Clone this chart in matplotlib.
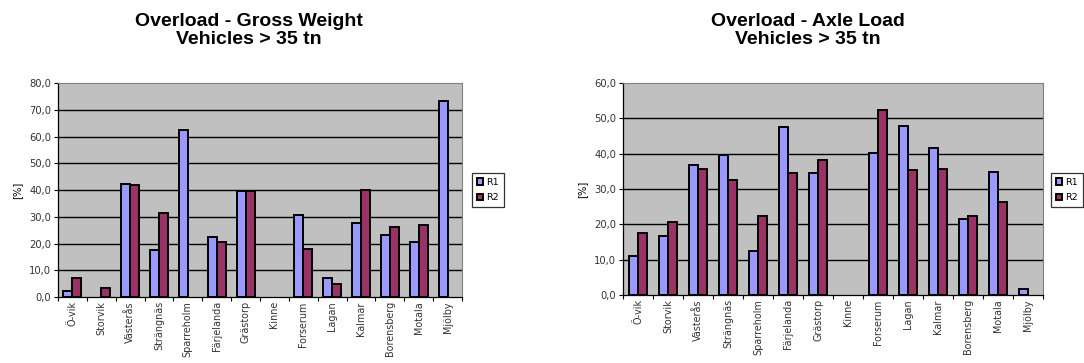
import matplotlib
matplotlib.use("Agg")
import matplotlib.pyplot as plt
import numpy as np

plt.rcParams['font.family'] = ['Liberation Sans', 'DejaVu Sans']

categories = ["Ö-vik", "Storvik", "Västerås", "Strängnäs", "Sparreholm", "Färjelanda",
              "Grästorp", "Kinne", "Forserum", "Lagan", "Kalmar", "Borensberg", "Motala", "Mjölby"]

gross_r1 = [2.4, 0.0, 42.1, 17.6, 62.5, 22.3, 39.8, 0.0, 30.7, 7.2, 27.8, 23.3, 20.5, 73.4]
gross_r2 = [7.2, 3.4, 42.0, 31.3, 0.0, 20.6, 39.8, 0.0, 18.1, 4.7, 40.0, 26.3, 26.8, 0.0]

axle_r1 = [10.9, 16.8, 36.8, 39.6, 12.5, 47.5, 34.5, 0.0, 40.2, 47.9, 41.7, 21.6, 34.9, 1.7]
axle_r2 = [17.6, 20.7, 35.7, 32.6, 22.5, 34.6, 38.3, 0.0, 52.5, 35.4, 35.7, 22.5, 26.2, 0.0]

c_r1 = "#9999FF"
c_r2 = "#993366"
bg = "#C0C0C0"
tick_font = ['DejaVu Sans']

W, H = 1084, 363
fig = plt.figure(figsize=(W / 100, H / 100), dpi=100)


def px_axes(x0, x1, ytop, ybot):
    return fig.add_axes([x0 / W, 1 - ybot / H, (x1 - x0) / W, (ybot - ytop) / H])


def bars(ax, x, vals, offset, w, color, label):
    vals = np.asarray(vals, dtype=float)
    keep = vals > 0
    ax.bar(x[keep] + offset, vals[keep], w, color=color, edgecolor="black",
           linewidth=1.4, label=label, zorder=3)


def draw(ax, r1, r2, ymax, title, title_x, legend_x):
    n = len(categories)
    x = np.arange(n)
    w = 0.31
    ax.set_facecolor(bg)
    bars(ax, x, r1, -w / 2, w, c_r1, "R1")
    bars(ax, x, r2, w / 2, w, c_r2, "R2")
    ax.set_xlim(-0.5, n - 0.5)
    ax.set_ylim(0, ymax)
    yt = np.arange(0, ymax + 0.1, 10)
    ax.set_yticks(yt)
    ax.set_yticklabels([f"{v:.1f}".replace(".", ",") for v in yt], fontsize=7.2,
                       color="#333333", family=tick_font)
    for v in yt[1:-1]:
        ax.axhline(v, color="black", linewidth=1.0, zorder=1)
    ax.set_xticks(np.arange(-0.5, n, 1.0))
    ax.set_xticklabels([])
    ax.set_xticks(x, minor=True)
    ax.set_xticklabels(categories, minor=True, rotation=90, fontsize=6.9,
                       color="#333333", family=tick_font)
    ax.tick_params(axis="x", which="minor", length=0, pad=3)
    ax.tick_params(axis="x", which="major", length=3, width=0.8, direction="out")
    ax.tick_params(axis="y", length=3, width=0.8, direction="out", pad=2)
    for s in ("top", "right"):
        ax.spines[s].set_color("#808080")
        ax.spines[s].set_linewidth(0.8)
    for s in ("left", "bottom"):
        ax.spines[s].set_color("black")
        ax.spines[s].set_linewidth(0.9)
    ax.set_ylabel("[%]", fontsize=7.2, labelpad=5, family=tick_font)
    fig.text(title_x / W, 1 - 13 / H, title, ha="center", va="top",
             fontsize=14, fontweight="bold", linespacing=1.08)
    leg = ax.legend(loc="center left", bbox_to_anchor=(legend_x / W, 1 - 190 / H),
                    bbox_transform=fig.transFigure, prop={'family': tick_font, 'size': 6.8},
                    frameon=True, fancybox=False, handlelength=0.7, handleheight=0.7,
                    handletextpad=0.3, borderpad=0.5, labelspacing=0.7, borderaxespad=0)
    leg.get_frame().set_edgecolor("black")
    leg.get_frame().set_linewidth(0.9)


ax1 = px_axes(58, 462, 83, 297)
draw(ax1, gross_r1, gross_r2, 80, "Overload - Gross Weight\nVehicles > 35 tn", 249, 472)

ax2 = px_axes(623, 1043, 83, 295)
draw(ax2, axle_r1, axle_r2, 60, "Overload - Axle Load\nVehicles > 35 tn", 808, 1051)

fig.savefig("out.png", dpi=100)
